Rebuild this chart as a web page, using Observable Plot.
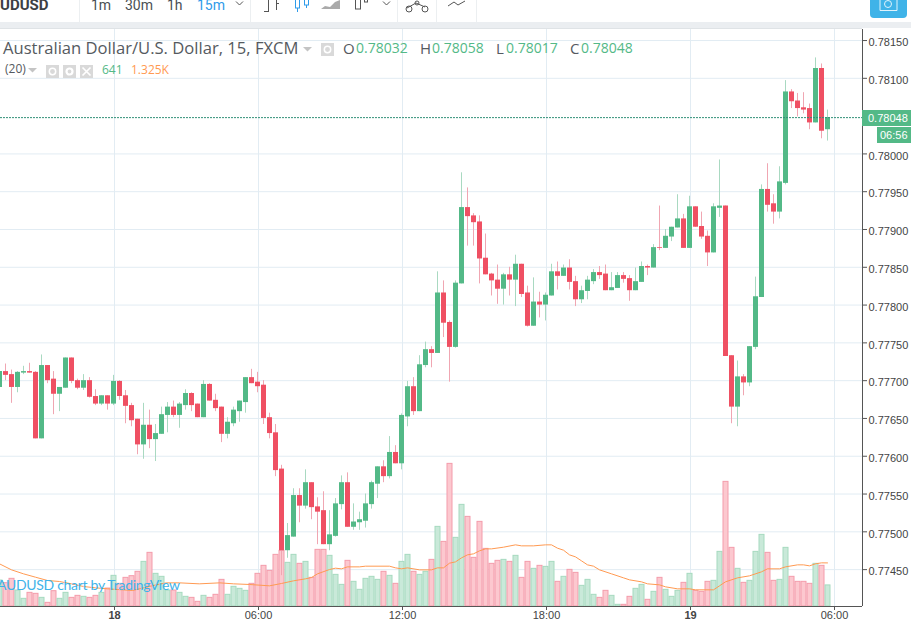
<!DOCTYPE html>
<html><head><meta charset="utf-8">
<script src="https://cdn.jsdelivr.net/npm/d3@7"></script>
<script src="https://cdn.jsdelivr.net/npm/@observablehq/plot@0.6"></script>
<style>
html,body{margin:0;padding:0;background:#fff;overflow:hidden}
#wrap{position:relative;width:911px;height:620px;overflow:hidden;font-family:"Open Sans","Noto Sans",sans-serif}
#chart{position:absolute;left:0;top:0}
.t{position:absolute;white-space:pre;line-height:1}
.box{position:absolute;background:#d8d8d8}
</style></head><body>
<div id="wrap"><div id="chart"></div></div>
<script>
// prices in units of 0.00001; one entry per 15-minute bar, bar 0 = 18th 00:00
const firstBar = -19;
const open = [
77691,77712,77708,77691,77710,77712,77711,77623,77720,77702,
77682,77690,77730,77700,77690,77700,77679,77669,77680,77669,
77699,77680,77667,77649,77615,77641,77622,77629,77654,77665,
77654,77667,77683,77669,77651,77695,77674,77665,77629,77643,
77659,77671,77704,77698,77694,77651,77631,77583,77475,77493,
77548,77534,77565,77533,77528,77483,77494,77536,77565,77506,
77512,77514,77536,77563,77586,77573,77605,77590,77652,77692,
77659,77720,77741,77736,77816,77777,77744,77828,77929,77918,
77910,77862,77841,77833,77821,77840,77833,77854,77816,77772,
77804,77800,77812,77844,77838,77849,77831,77807,77818,77831,
77843,77841,77819,77822,77839,77835,77819,77830,77851,77849,
77876,77875,77890,77902,77914,77875,77930,77904,77891,77869,
77928,77931,77733,77665,77705,77697,77744,77810,77953,77934,
77923,77961,78082,78070,78061,78060,78041,78113,78032];
const close = [
77712,77707,77691,77711,77712,77710,77623,77720,77700,77682,
77691,77730,77699,77690,77700,77678,77669,77680,77669,77699,
77679,77666,77647,77615,77641,77622,77630,77655,77665,77654,
77669,77683,77667,77651,77695,77673,77663,77629,77645,77661,
77673,77704,77696,77692,77650,77630,77581,77475,77495,77548,
77534,77565,77532,77526,77483,77496,77537,77565,77506,77513,
77516,77537,77565,77586,77573,77605,77590,77654,77692,77659,
77721,77741,77736,77816,77776,77744,77829,77929,77917,77909,
77861,77840,77832,77821,77840,77833,77854,77814,77772,77804,
77800,77813,77844,77838,77849,77830,77807,77819,77833,77843,
77839,77819,77823,77839,77834,77819,77831,77851,77849,77876,
77875,77891,77903,77914,77875,77930,77903,77890,77869,77930,
77931,77732,77665,77705,77697,77745,77811,77953,77932,77923,
77963,78082,78069,78060,78058,78041,78113,78030,78048];
const high = [
77712,77722,77714,77712,77719,77723,77712,77734,77720,77712,
77691,77730,77730,77702,77708,77704,77688,77680,77680,77707,
77700,77687,77670,77649,77670,77661,77642,77665,77671,77673,
77671,77688,77684,77669,77700,77696,77682,77665,77651,77665,
77673,77704,77715,77711,77700,77657,77642,77588,77511,77557,
77557,77582,77565,77545,77553,77528,77544,77574,77578,77537,
77526,77550,77567,77586,77594,77626,77614,77656,77699,77704,
77733,77751,77745,77844,77832,77779,77832,77975,77955,77921,
77918,77894,77842,77853,77842,77850,77866,77854,77825,77836,
77817,77816,77854,77857,77853,77860,77838,77825,77838,77847,
77851,77853,77843,77843,77843,77839,77849,77857,77853,77880,
77931,77900,77903,77946,77920,77944,77930,77923,77898,77934,
77992,77931,77733,77726,77708,77745,77837,77959,77987,77946,
77983,78097,78085,78080,78081,78066,78127,78119,78058];
const low = [
77691,77700,77670,77684,77708,77710,77623,77623,77696,77655,
77659,77690,77696,77688,77687,77677,77667,77667,77661,77667,
77674,77643,77639,77602,77596,77610,77593,77629,77631,77651,
77637,77661,77659,77651,77651,77673,77659,77618,77623,77639,
77645,77657,77696,77684,77642,77623,77573,77442,77465,77493,
77512,77530,77516,77483,77483,77475,77493,77529,77506,77502,
77502,77505,77530,77544,77565,77570,77590,77582,77639,77654,
77659,77717,77717,77736,77757,77698,77743,77828,77878,77878,
77828,77840,77812,77801,77800,77812,77798,77810,77771,77772,
77783,77779,77812,77820,77838,77820,77798,77802,77807,77827,
77834,77819,77819,77822,77829,77805,77819,77830,77839,77849,
77872,77875,77884,77902,77875,77875,77903,77887,77851,77869,
77916,77732,77643,77639,77680,77692,77741,77810,77923,77907,
77914,77959,78060,78049,78053,78032,78041,78020,78017];
const volume = [
790,709,841,486,233,415,385,263,111,466,
233,415,263,324,294,263,324,415,547,932,
689,871,922,1054,1357,1631,993,902,486,486,
415,294,263,142,324,263,355,810,355,598,
537,476,689,993,1236,1084,1570,1692,1327,1570,
1297,1357,871,1722,1722,1540,962,658,1388,750,
507,841,902,810,1054,932,689,1357,1570,1054,
962,1054,1418,2421,1965,4336,2087,3090,2725,1479,
2573,1752,1297,1388,1418,1357,1540,871,1357,1145,
1236,1205,1357,750,902,1114,1023,628,810,355,
263,476,324,51,51,294,537,658,203,446,
871,507,294,476,719,993,476,446,750,780,
1661,3789,1783,1145,719,780,1661,2178,1631,780,
810,1783,902,750,750,689,1297,1236,641];
// volume moving average (20), read at the line's visible corners
const maBar = [-19,-17,-15,-13,-11,-9,-7,-5,-3,-1,3.2,6.6,8.8,11,14.3,17.7,20,22.7,26,28,30,32,33,34,36,37,38,39,41,42,46,47,48,49,51,53,54,55,56,57,58,59,60,61,62,63,65,67,68,70,72,73,74,75,76,77,78,79,80,81,83,85,86,88,89,91,92,94,96,97,100,101,102,104,106,108,109,111,112,114,115,116,117,118,119];
const maValue = [1297,1114,993,891,790,760,689,608,567,537,486,638,719,719,689,719,689,669,628,700,780,841,881,993,1124,1165,1145,1205,1205,1226,1226,1175,1145,1175,1114,1114,1175,1175,1317,1357,1479,1570,1601,1692,1752,1752,1803,1874,1844,1844,1874,1874,1773,1712,1570,1509,1388,1266,1226,1114,993,871,810,750,689,658,598,537,537,507,507,628,750,871,932,1054,1145,1145,1205,1266,1266,1236,1297,1327,1325];
const priceTicks = [77450,77500,77550,77600,77650,77700,77750,77800,77850,77900,77950,78000,78100,78150];
const priceTickLabels = priceTicks.map(d => (d / 1e5).toFixed(5));
const dayTicks = [0,96];
const dayLabels = ["18","19"];
const hourTicks = [24,48,72,120];
const hourLabels = ["06:00","12:00","18:00","06:00"];
const lastPrice = 78048;

const RED="#ef5063", GREEN="#53b987", WICKR="#f0a6b2", WICKG="#a9d9c1";
const priceFloor = 77401.2;          // price at the bottom of the pane
const pricePerVolume = 1.323 / 30.4; // volume pane shares the pane's height

const bars = open.map((o,i)=>({bar:firstBar+i,o,c:close[i],h:high[i],l:low[i],v:volume[i],up:close[i]>=o}));
const ma = maBar.map((b,i)=>({bar:b,v:maValue[i]}));
const volY = v => priceFloor + v*pricePerVolume;

const plot = Plot.plot({
  width:911,height:620,marginLeft:0,marginRight:49,marginTop:29,marginBottom:14,
  style:{background:"transparent",fontFamily:"'Liberation Sans',Arial,sans-serif",fontSize:"11px",color:"#555"},
  x:{domain:[-113/6,749/6],range:[0,862]},
  y:{domain:[priceFloor,78164.6],range:[606,29]},
  marks:[
    Plot.ruleX([...dayTicks,...hourTicks],{x:d=>d,stroke:"#e2ecf3",strokeWidth:1,dx:1}),
    Plot.ruleY(priceTicks,{y:d=>d,stroke:"#e2ecf3",strokeWidth:1}),
    // volume
    Plot.rect(bars,{x1:d=>d.bar-1/3,x2:d=>d.bar+1/2,y1:()=>priceFloor,y2:d=>volY(d.v),
      fill:d=>d.up?"#c9e9d9":"#fcc8cf",stroke:d=>d.up?"#a6dabf":"#f49cab",strokeWidth:1}),
    Plot.line(ma,{x:"bar",y:d=>volY(d.v),stroke:"#ff9a52",strokeWidth:1,curve:"linear"}),
    // candles
    Plot.ruleX(bars,{x:"bar",y1:"l",y2:"h",stroke:d=>d.up?WICKG:WICKR,strokeWidth:1}),
    Plot.ruleX(bars,{x:"bar",y1:"o",y2:"c",stroke:d=>d.up?GREEN:RED,strokeWidth:5}),
    // last price
    Plot.ruleY([lastPrice],{y:d=>d,stroke:"#2f8f76",strokeWidth:1,strokeDasharray:"2,1"}),
    // axes
    Plot.axisX({ticks:dayTicks,tickFormat:d=>dayLabels[dayTicks.indexOf(d)],tickSize:4,tickPadding:1,label:null,anchor:"bottom",stroke:"#555",fill:"#444",fontWeight:"bold",dx:1}),
    Plot.axisX({ticks:hourTicks,tickFormat:d=>hourLabels[hourTicks.indexOf(d)],tickSize:4,tickPadding:1,label:null,anchor:"bottom",stroke:"#555",fill:"#444",dx:1}),
    Plot.axisY({ticks:priceTicks,tickFormat:d=>priceTickLabels[priceTicks.indexOf(d)],tickSize:4,tickPadding:2,label:null,anchor:"right",stroke:"#555",fill:"#444",textStroke:"none"}),
    Plot.ruleX([749/6],{stroke:"#555",strokeWidth:1}),
    Plot.ruleY([priceFloor],{stroke:"#555",strokeWidth:1})
  ]
});
const wrap=document.getElementById("wrap");
document.getElementById("chart").appendChild(plot);
// price labels sit a pixel lower than their tick in the reference
plot.querySelectorAll('[aria-label="y-axis tick label"] text').forEach(t=>t.setAttribute("dy","0.2em"));

function T(txt,x,y,size,color,extra){const e=document.createElement("div");e.className="t";e.textContent=txt;
  e.style.cssText=`left:${x}px;top:${y}px;font-size:${size}px;color:${color};${extra||""}`;wrap.appendChild(e);return e;}
function B(x,y,w,h,bg,extra){const e=document.createElement("div");e.className="box";
  e.style.cssText=`left:${x}px;top:${y}px;width:${w}px;height:${h}px;background:${bg};${extra||""}`;wrap.appendChild(e);return e;}

// toolbar
B(0,0,911,22,"#fff");
B(0,22,911,6,"#ebeef1"); B(0,28,862,1,"#dfe3e6");
[79,250,397,436,476].forEach(x=>B(x,0,1,22,"#eceff1"));
T("UDUSD",0,-2,15,"#3c4043","font-weight:700;font-family:Roboto");
T("1m",91,-2,14,"#4a4f54","font-family:Roboto");
T("30m",125,-2,14,"#4a4f54","font-family:Roboto");
T("1h",167,-2,14,"#4a4f54","font-family:Roboto");
T("15m",197,-2,14,"#2f9bea","font-family:Roboto");
const ns="http://www.w3.org/2000/svg";
const ic=document.createElementNS(ns,"svg");
ic.setAttribute("width","911");ic.setAttribute("height","22");
ic.style.cssText="position:absolute;left:0;top:0";
ic.innerHTML=`
<g fill="none" stroke="#555" stroke-width="1">
<path d="M236 1.5l3.5 3.5l3.5-3.5"/><path d="M383 1.5l3.5 3.5l3.5-3.5"/>
<path d="M268.5 0v12M264 11.5h4M276.5 0v10M276 3.5h3"/>
<rect x="355.5" y="-1" width="5" height="10"/><rect x="364.5" y="-1" width="3" height="3"/>
<path d="M407 8l9-5l9 4"/><circle cx="409" cy="9" r="3"/><circle cx="425" cy="9" r="3"/><circle cx="417" cy="3" r="2"/>
<path d="M448 6l6-4l4 3l7-4"/>
</g>
<g fill="none" stroke="#2f9bea" stroke-width="1"><rect x="295.5" y="-1" width="4" height="9"/><path d="M297.5 8v4"/><rect x="304.5" y="-1" width="4" height="6"/><path d="M306.5 5v3"/></g>
<path d="M321 9l4-3l5 1l5-5l5-2v9z" fill="#aaa"/>`;
wrap.appendChild(ic);
B(870,0,37,18,"#3fb3e8","border-radius:0 0 4px 4px");
const cam=document.createElementNS(ns,"svg");cam.setAttribute("width","20");cam.setAttribute("height","12");
cam.style.cssText="position:absolute;left:879px;top:0";
cam.innerHTML=`<g fill="none" stroke="#dff3fc"><circle cx="9" cy="4" r="3.5"/><path d="M1 0v10.5h17v-10.5"/></g>`;wrap.appendChild(cam);

// legend rows
T("Australian Dollar/U.S. Dollar, 15, FXCM",3,40,16.6,"#555a60","font-weight:500");
const caret=(x,y)=>{const s=document.createElementNS(ns,"svg");s.setAttribute("width","9");s.setAttribute("height","5");
 s.style.cssText=`position:absolute;left:${x}px;top:${y}px`;s.innerHTML=`<path d="M0 0h9l-4.5 4.5z" fill="#c4c4c4"/>`;wrap.appendChild(s);};
caret(303,47);
const glyph=(x,y,inner)=>{const s=document.createElementNS(ns,"svg");s.setAttribute("width","13");s.setAttribute("height","13");
 s.style.cssText=`position:absolute;left:${x}px;top:${y}px`;s.innerHTML=`<rect width="13" height="13" fill="#d9d9d9"/>`+inner;wrap.appendChild(s);};
const eyeG=`<circle cx="6.5" cy="6.5" r="3.2" fill="none" stroke="#fff" stroke-width="1.5"/>`;
const gearG=`<circle cx="6.5" cy="6.5" r="3" fill="none" stroke="#fff" stroke-width="2.2"/>`;
const crossG=`<path d="M2.5 2.5l8 8M10.5 2.5l-8 8" stroke="#fff" stroke-width="1.7"/>`;
glyph(321,43,eyeG);
[["O",343,"0.78032",356],["H",420,"0.78058",432],["L",496,"0.78017",506],["C",570,"0.78048",581]].forEach(([a,x,v,vx])=>{
  T(a,x,41,15,"#555a60");T(v,vx,41,14,"#53b987");});
T("(20)",5,63,12,"#555a60");caret(28,68);
glyph(46,65,eyeG);glyph(63,65,gearG);glyph(80,65,crossG);
T("641",102,64,12,"#53b987");T("1.325K",131,64,12,"#ff9a52");

// watermark
T("AUDUSD chart by TradingView",-3,578,14,"#3fb3e8","font-family:Lato;letter-spacing:-0.3px");

// last price labels
B(862,110,49,16,"#53b987");
T("0.78048",868,113,11,"#fff","font-family:'Liberation Sans'");
B(877,127,34,16,"#53b987");
T("06:56",880,130,11,"#fff","font-family:'Liberation Sans'");
</script>
</body></html>
